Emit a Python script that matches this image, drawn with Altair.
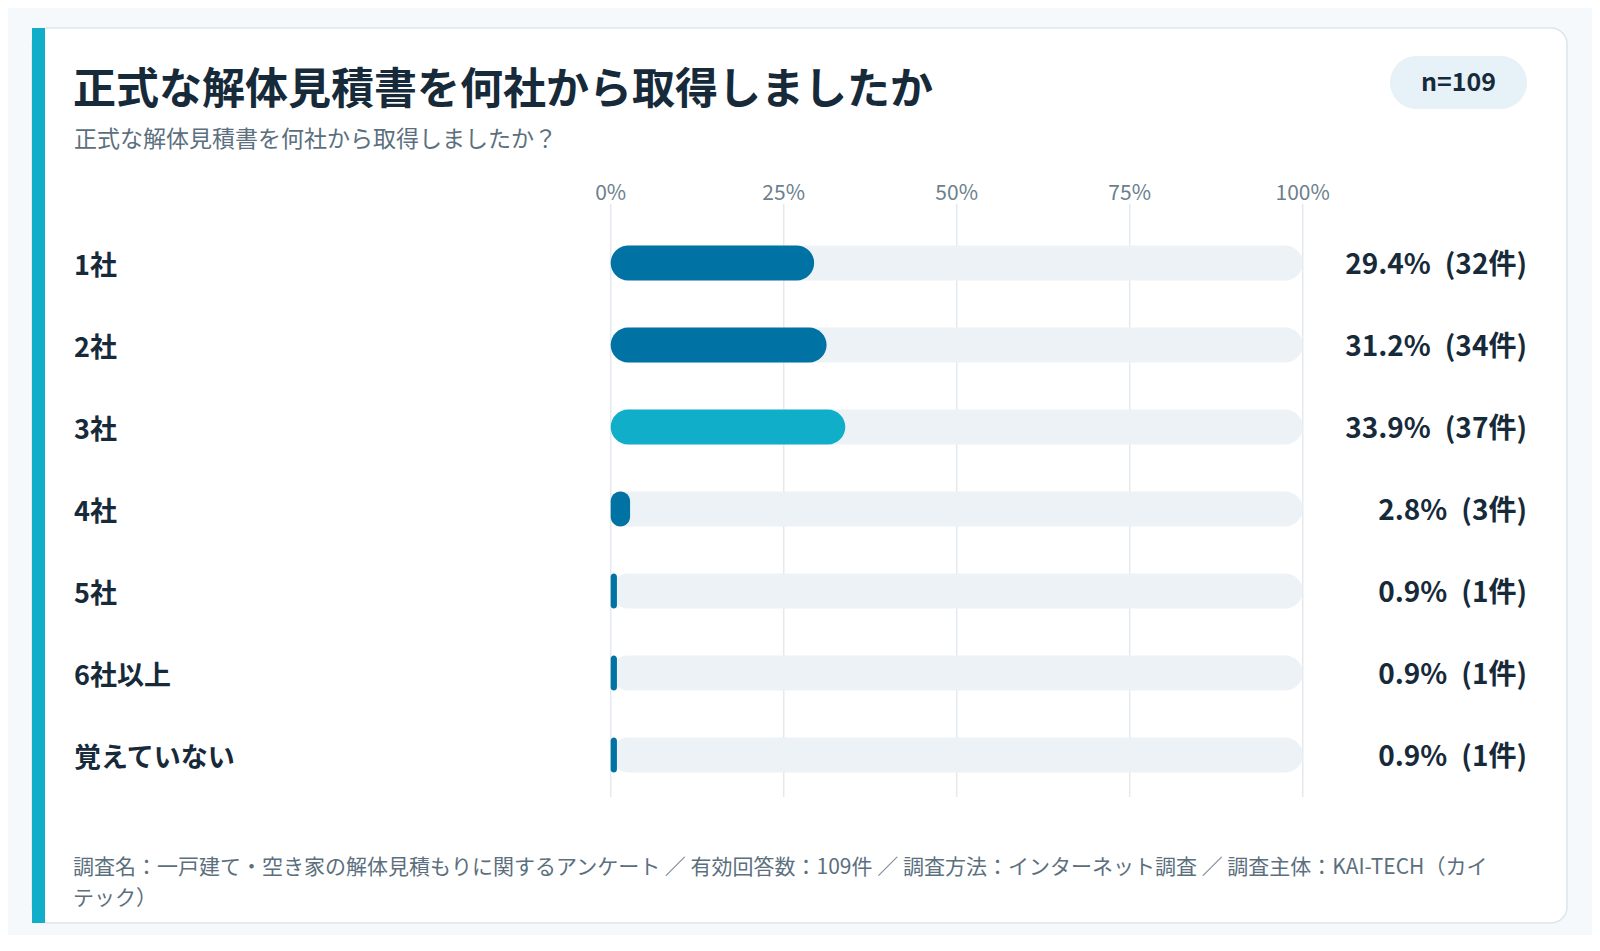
import altair as alt
import pandas as pd

# ---- data ----
categories = ["1社", "2社", "3社", "4社", "5社", "6社以上", "覚えていない"]
percents = [29.4, 31.2, 33.9, 2.8, 0.9, 0.9, 0.9]
counts = [32, 34, 37, 3, 1, 1, 1]
tick_values = [0, 25, 50, 75, 100]
tick_labels = ["0%", "25%", "50%", "75%", "100%"]

title_text = "正式な解体見積書を何社から取得しましたか"
subtitle_text = "正式な解体見積書を何社から取得しましたか？"
badge_text = "n=109"
footer_text = ("調査名：一戸建て・空き家の解体見積もりに関するアンケート ／ 有効回答数：109件 ／ "
               "調査方法：インターネット調査 ／ 調査主体：KAI-TECH（カイ\nテック）")

FONT = "Noto Sans CJK JP"
DARK = "#172a3a"
MUTED = "#5b6f7e"
BLUE = "#0072a3"
TEAL = "#10aec8"
TRACK = "#edf2f6"
GRID = "#e3e9ee"

W, H = 1535, 895

df = pd.DataFrame({"cat": categories, "pct": percents, "cnt": counts})
df["full"] = 100
df["label"] = [f"{p:.1f}%\u2002({c}件)" for p, c in zip(percents, counts)]
df["color"] = [TEAL if p == max(percents) else BLUE for p in percents]

ticks = pd.DataFrame({"v": tick_values, "t": tick_labels})

x0, x100 = 578.7, 1270.7
step = 82
pi = 1 - 35 / step
xs = alt.Scale(domain=[0, 100], range=[x0, x100])
ys = alt.Scale(domain=categories, range=[194, 194 + 7 * step], paddingInner=pi, paddingOuter=pi / 2)

base = alt.Chart(df)

accent = alt.Chart(pd.DataFrame({"a": [0]})).mark_rect(color=TEAL).encode(
    x=alt.value(0), x2=alt.value(13), y=alt.value(0), y2=alt.value(H)
)

grid = alt.Chart(ticks).mark_rule(color=GRID, strokeWidth=1.5).encode(
    x=alt.X("v:Q", scale=xs, axis=None), y=alt.value(176), y2=alt.value(769)
)
tick_text = alt.Chart(ticks).mark_text(font=FONT, fontSize=21, color="#6b7f8e", baseline="middle", align="center").encode(
    x=alt.X("v:Q", scale=xs, axis=None), y=alt.value(166), text="t:N"
)

track = base.mark_bar(color=TRACK, cornerRadius=17.5).encode(
    x=alt.X("full:Q", scale=xs, axis=None),
    x2=alt.datum(0),
    y=alt.Y("cat:N", scale=ys, axis=None, sort=categories),
)
bars = base.mark_bar(cornerRadius=17.5).encode(
    x=alt.X("pct:Q", scale=xs, axis=None),
    x2=alt.datum(0),
    y=alt.Y("cat:N", scale=ys, axis=None, sort=categories),
    color=alt.Color("color:N", scale=None, legend=None),
)
cat_text = base.mark_text(font=FONT, fontSize=27, fontWeight="bold", color=DARK, align="left", baseline="middle", dy=4).encode(
    x=alt.value(42), y=alt.Y("cat:N", scale=ys, axis=None, sort=categories), text="cat:N"
)
val_text = base.mark_text(font=FONT, fontSize=28, fontWeight="bold", color=DARK, align="right", baseline="middle", dy=3).encode(
    x=alt.value(1495), y=alt.Y("cat:N", scale=ys, axis=None, sort=categories), text="label:N"
)

one = pd.DataFrame({"title": [title_text], "sub": [subtitle_text], "badge": [badge_text], "foot": [footer_text]})
c1 = alt.Chart(one)
title = c1.mark_text(font=FONT, fontSize=43, fontWeight="bold", color=DARK, align="left", baseline="alphabetic").encode(
    x=alt.value(41), y=alt.value(76), text="title:N"
)
subtitle = c1.mark_text(font=FONT, fontSize=23, color=MUTED, align="left", baseline="alphabetic").encode(
    x=alt.value(42), y=alt.value(119), text="sub:N"
)
pill = c1.mark_rect(color="#e6f2f7", cornerRadius=26.5).encode(
    x=alt.value(1358), x2=alt.value(1495), y=alt.value(28), y2=alt.value(81)
)
badge = c1.mark_text(font=FONT, fontSize=25, fontWeight="bold", color=DARK, align="center", baseline="middle").encode(
    x=alt.value(1426.5), y=alt.value(55), text="badge:N"
)
footer = c1.mark_text(font=FONT, fontSize=21, color=MUTED, align="left", baseline="middle", lineBreak="\n", lineHeight=31).encode(
    x=alt.value(41), y=alt.value(840), text="foot:N"
)

chart = alt.layer(
    accent, grid, tick_text, track, bars, cat_text, val_text, title, subtitle, pill, badge, footer
).properties(
    width=W, height=H,
    autosize=alt.AutoSizeParams(type="none"),
    padding={"left": 24, "top": 20, "right": 25, "bottom": 12},
    background="#f5f9fc",
).configure_view(
    fill="white", stroke="#dbe6ea", strokeWidth=1.5, cornerRadius=16
)

chart.save("out.html", embed_options={"renderer": "svg", "actions": False})
